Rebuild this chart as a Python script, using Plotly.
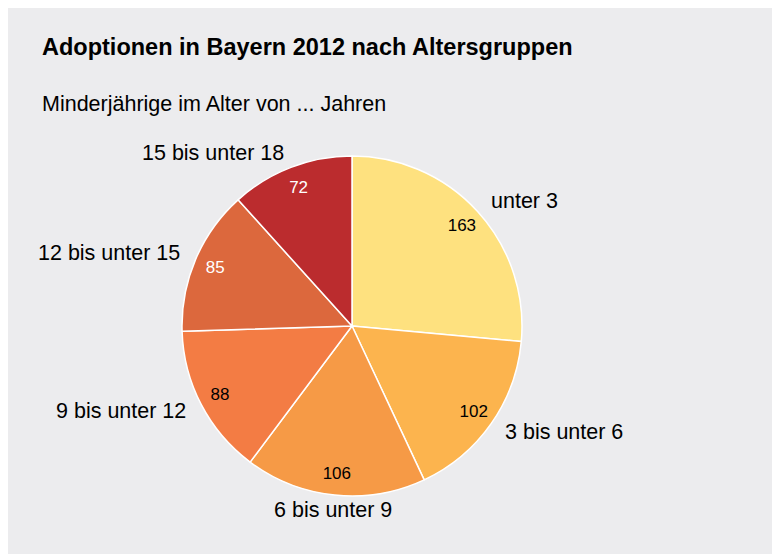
import math
import plotly.graph_objects as go

categories = ["unter 3", "3 bis unter 6", "6 bis unter 9", "9 bis unter 12", "12 bis unter 15", "15 bis unter 18"]
values = [163, 102, 106, 88, 85, 72]
colors = ["#FEE17F", "#FCB44E", "#F69A46", "#F37C44", "#DC683D", "#BB2C2E"]
value_text_colors = ["#000000", "#000000", "#000000", "#000000", "#FFFFFF", "#FFFFFF"]

W, H = 780, 554
L, T = 174, 148
D = 340                      # pie domain size in px
R_ = W - L - D
B = H - T - D
RAD = D / 2
CX, CY = L + RAD, T + RAD

def px_x(x):
    return (x - L) / D

def px_y(y):
    return (T + D - y) / D

FONT = "Liberation Sans, Arial, Helvetica, sans-serif"
BG = "#ECECEE"

fig = go.Figure()
# coloured slices
fig.add_trace(go.Pie(
    labels=categories, values=values, sort=False, direction="clockwise", rotation=0,
    marker=dict(colors=colors, line=dict(color="white", width=1.5)),
    textinfo="none", showlegend=False, hoverinfo="label+value",
))
# transparent ring carrying the value labels near the rim
fig.add_trace(go.Pie(
    labels=categories, values=values, sort=False, direction="clockwise", rotation=0, hole=0.75,
    marker=dict(colors=["rgba(0,0,0,0)"] * len(values), line=dict(width=0)),
    textinfo="value", textposition="inside", insidetextorientation="horizontal",
    textfont=dict(family=FONT, size=17, color=value_text_colors),
    showlegend=False, hoverinfo="skip",
))

# outside category labels, placed along each slice's mid-angle
annotations = []
total = sum(values)
cum = 0
for cat, v in zip(categories, values):
    theta = 2 * math.pi * (cum + v / 2) / total
    cum += v
    s, c = math.sin(theta), math.cos(theta)
    x = CX + (RAD + 15) * s
    y = CY - (RAD + 15) * c
    xa = "left" if s > 0.3 else ("right" if s < -0.3 else "center")
    annotations.append(dict(text=cat, xref="paper", yref="paper", x=px_x(x), y=px_y(y),
                            xanchor=xa, yanchor="middle", showarrow=False,
                            font=dict(family=FONT, size=21.5, color="#000000")))

annotations += [
    dict(text="<b>Adoptionen in Bayern 2012 nach Altersgruppen</b>", xref="paper", yref="paper",
         x=px_x(32), y=px_y(39), xanchor="left", yanchor="middle", showarrow=False,
         font=dict(family=FONT, size=23.5, color="#000000")),
    dict(text="Minderjährige im Alter von ... Jahren", xref="paper", yref="paper",
         x=px_x(32), y=px_y(96), xanchor="left", yanchor="middle", showarrow=False,
         font=dict(family=FONT, size=21.5, color="#000000")),
]

fig.update_layout(
    width=W, height=H,
    margin=dict(l=L, r=R_, t=T, b=B, autoexpand=False),
    paper_bgcolor=BG,
    font=dict(family=FONT, color="#000000"),
    annotations=annotations,
)

fig.write_html("out.html")
